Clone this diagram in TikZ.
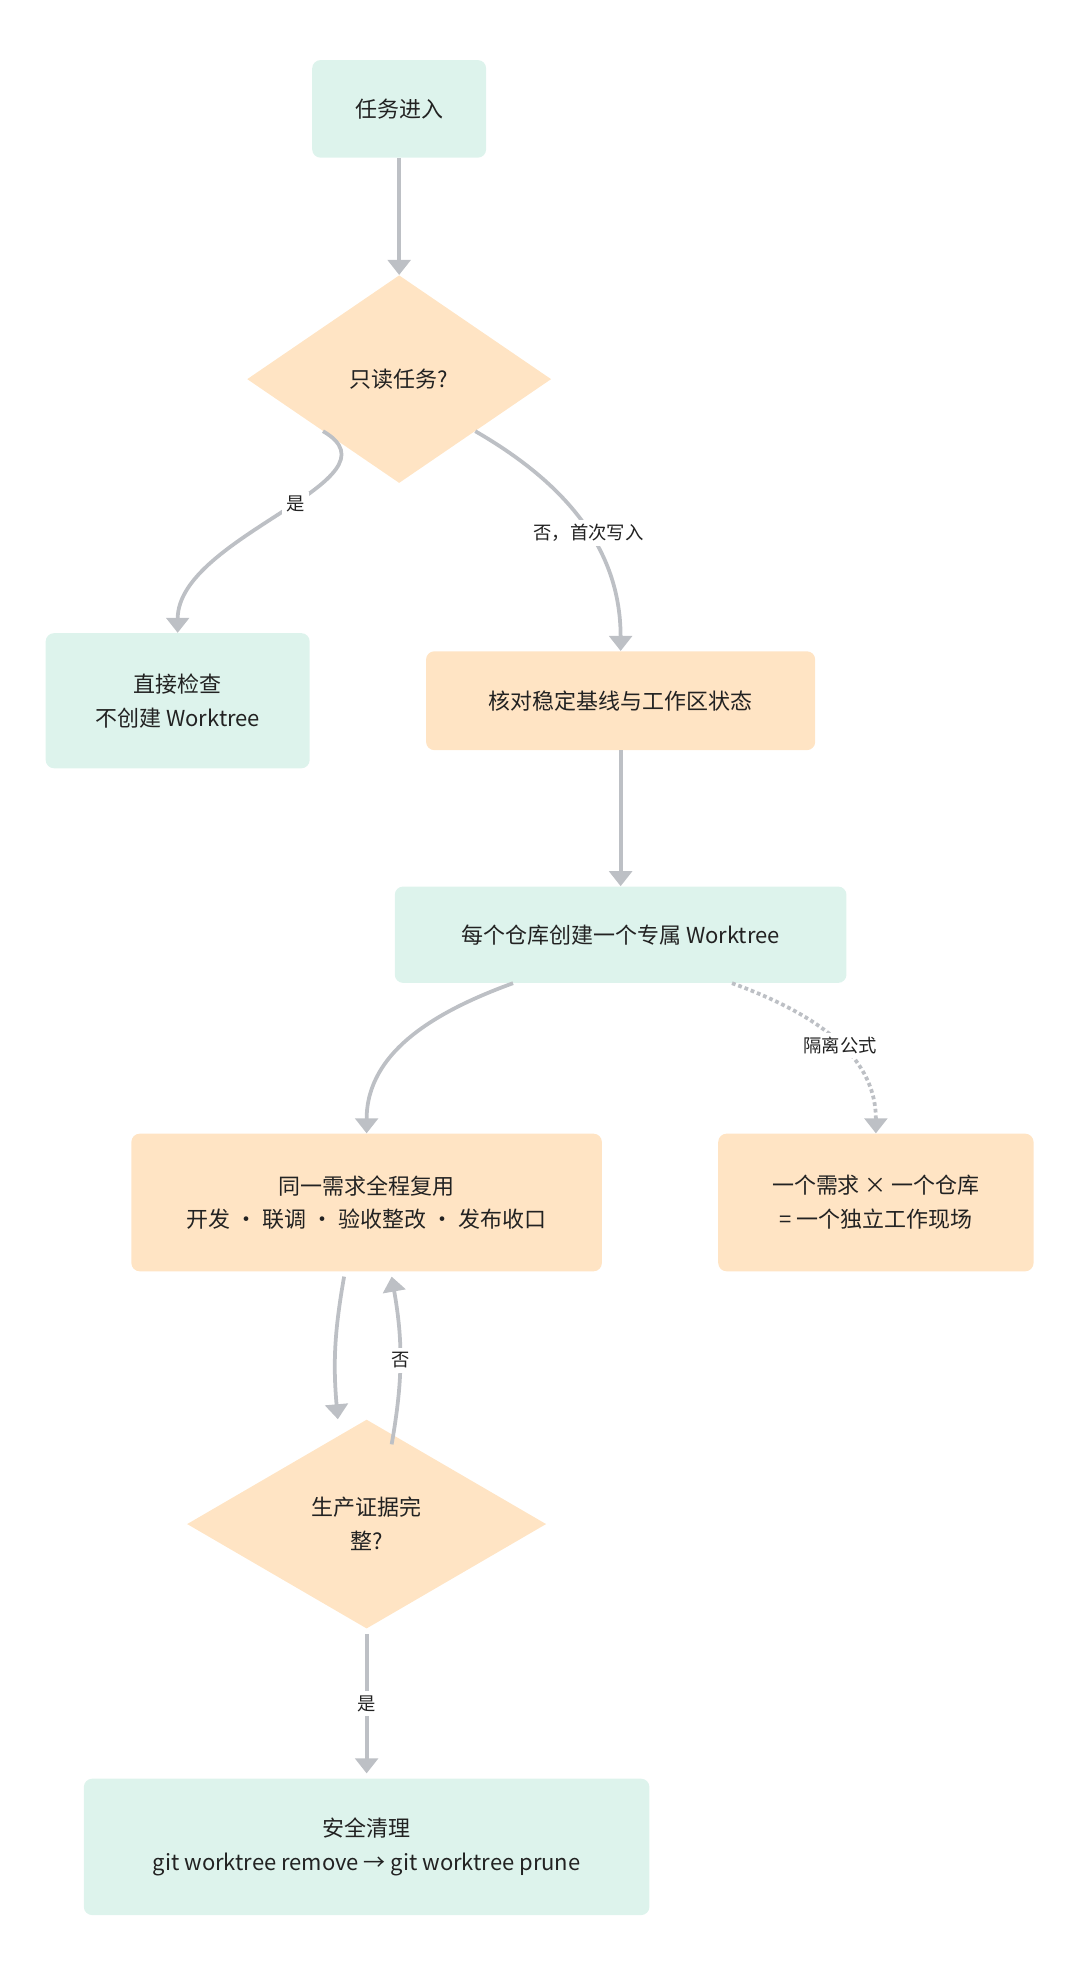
\documentclass[tikz,border=0pt]{standalone}
\usepackage{fontspec}
\setmainfont{Noto Sans CJK SC}
\usetikzlibrary{positioning, shapes.geometric, arrows.meta}
\definecolor{mint}{HTML}{DDF3EC}
\definecolor{peach}{HTML}{FFE4C4}
\definecolor{edgegray}{HTML}{BDC0C5}
\definecolor{ink}{HTML}{222222}
\tikzstyle{Box} = [rectangle, rounded corners=2mm, align=center, text=ink,
  font=\fontsize{15}{23}\selectfont, inner sep=0pt]
\tikzstyle{Green} = [Box, fill=mint]
\tikzstyle{Orange} = [Box, fill=peach]
\tikzstyle{Decision} = [diamond, fill=peach, align=center, text=ink, inner sep=0pt,
  font=\fontsize{15}{23}\selectfont]
\tikzstyle{Arrow} = [edgegray, line width=0.9mm, -{Triangle[length=3.6mm, width=5.4mm]}]
\tikzstyle{Tag} = [fill=white, text=ink, font=\fontsize{12.5}{15}\selectfont, inner sep=1mm]

\begin{document}
\begin{tikzpicture}[x=0.3mm, y=-0.3mm]
    \useasboundingbox (0,0) rectangle (868,1568);
    \node [Green, minimum width=139*0.3mm, minimum height=78*0.3mm] (start) at (319,87) {任务进入};
    \node [Decision, minimum width=243*0.3mm, minimum height=166*0.3mm] (ro) at (319,303) {只读任务?};
    \node [Green, minimum width=211*0.3mm, minimum height=108*0.3mm] (check) at (142,560) {直接检查\\不创建 Worktree};
    \node [Orange, minimum width=311*0.3mm, minimum height=79*0.3mm] (base) at (496,560) {核对稳定基线与工作区状态};
    \node [Green, minimum width=361*0.3mm, minimum height=77*0.3mm] (wt) at (496,747) {每个仓库创建一个专属 Worktree};
    \node [Orange, minimum width=376*0.3mm, minimum height=110*0.3mm] (reuse) at (293,961) {同一需求全程复用\\开发 · 联调 · 验收整改 · 发布收口};
    \node [Orange, minimum width=252*0.3mm, minimum height=110*0.3mm] (rule) at (700,961) {一个需求 × 一个仓库\\= 一个独立工作现场};
    \node [Decision, minimum width=287*0.3mm, minimum height=167*0.3mm] (ev) at (293,1218) {生产证据完\\整?};
    \node [Green, minimum width=452*0.3mm, minimum height=109*0.3mm] (clean) at (293,1476) {安全清理\\git worktree remove → git worktree prune};

    \draw[Arrow] (start) -- (ro);
    \draw[Arrow] (ro.south west) to [out=-30, in=90] node [Tag, pos=0.45] {是} (check.north);
    \draw[Arrow] (ro.south east) to [out=-30, in=90] node [Tag, pos=0.55] {否，首次写入} (base.north);
    \draw[Arrow] (base) -- (wt);
    \draw[Arrow] ([xshift=-86*0.3mm]wt.south) to [out=-160, in=90] (reuse.north);
    \draw[Arrow, dotted] ([xshift=89*0.3mm]wt.south) to [out=-20, in=90] node [Tag, pos=0.55] {隔离公式} (rule.north);
    \draw[Arrow] ([xshift=-18*0.3mm, yshift=-4*0.3mm]reuse.south) to [out=-100, in=95] ([xshift=-23*0.3mm]ev.north);
    \draw[Arrow] ([xshift=20*0.3mm, yshift=-20*0.3mm]ev.north) to [out=80, in=-80] node [Tag, pos=0.5] {否} ([xshift=20*0.3mm, yshift=-4*0.3mm]reuse.south);
    \draw[Arrow] ([yshift=-4*0.3mm]ev.south) -- node [Tag] {是} ([yshift=4*0.3mm]clean.north);
\end{tikzpicture}
\end{document}
